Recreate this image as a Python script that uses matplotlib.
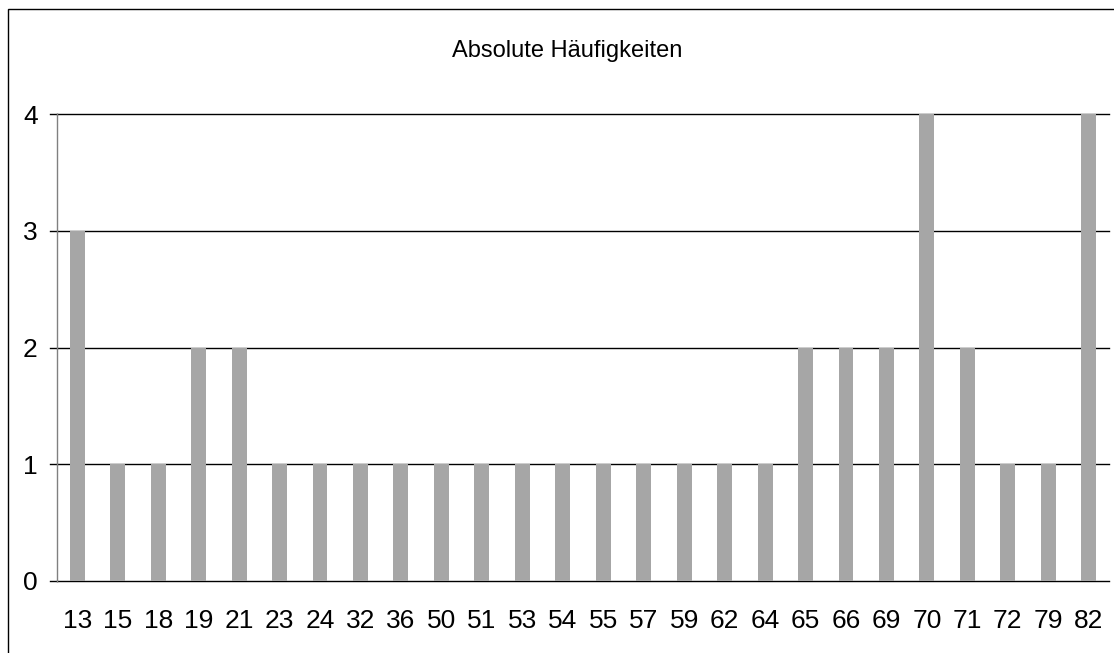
import matplotlib.pyplot as plt
from matplotlib.patches import Rectangle

# Daten
kategorien = ["13", "15", "18", "19", "21", "23", "24", "32", "36", "50", "51", "53", "54",
              "55", "57", "59", "62", "64", "65", "66", "69", "70", "71", "72", "79", "82"]
haeufigkeiten = [3, 1, 1, 2, 2, 1, 1, 1, 1, 1, 1, 1, 1,
                 1, 1, 1, 1, 1, 2, 2, 2, 4, 2, 1, 1, 4]
y_ticks = [0, 1, 2, 3, 4]

plt.rcParams['font.family'] = ['Liberation Sans', 'DejaVu Sans']

W, H = 1114, 653
fig = plt.figure(figsize=(W / 100, H / 100), dpi=100)

# Rahmen (rechts/unten abgeschnitten)
fig.patches.append(Rectangle((7.5 / W, -0.1), 1.2, 1 - 9 / H + 0.1,
                             transform=fig.transFigure, fill=False,
                             edgecolor='black', linewidth=1.0))

ax = fig.add_axes([57 / W, 1 - 581 / H, (1109 - 57) / W, (581 - 114) / H])

x = range(len(kategorien))
ax.bar(x, haeufigkeiten, width=0.37, color='#A6A6A6', zorder=3)

ax.set_xlim(-0.5, len(kategorien) - 0.5)
ax.set_ylim(0, 4)
ax.set_yticks(y_ticks)
ax.set_xticks(list(x))
ax.set_xticklabels(kategorien)

# Gitterlinien inkl. kurze Ticks links
for v in y_ticks:
    ax.axhline(v, color='black', linewidth=1.0, zorder=2, clip_on=False)
    ax.plot([-7 / ((1109 - 57) / len(kategorien)) - 0.5, -0.5], [v, v],
            color='black', linewidth=1.0, clip_on=False)

for s in ['top', 'right', 'bottom']:
    ax.spines[s].set_visible(False)
ax.spines['left'].set_color('#808080')
ax.spines['left'].set_linewidth(1.0)

ax.tick_params(axis='y', length=0, pad=14, labelsize=19)
ax.tick_params(axis='x', length=0, pad=20, labelsize=19)

fig.text(567 / W, 1 - 51 / H, "Absolute Häufigkeiten", ha='center', va='center',
         fontsize=17)

fig.savefig("out.png", dpi=100)
